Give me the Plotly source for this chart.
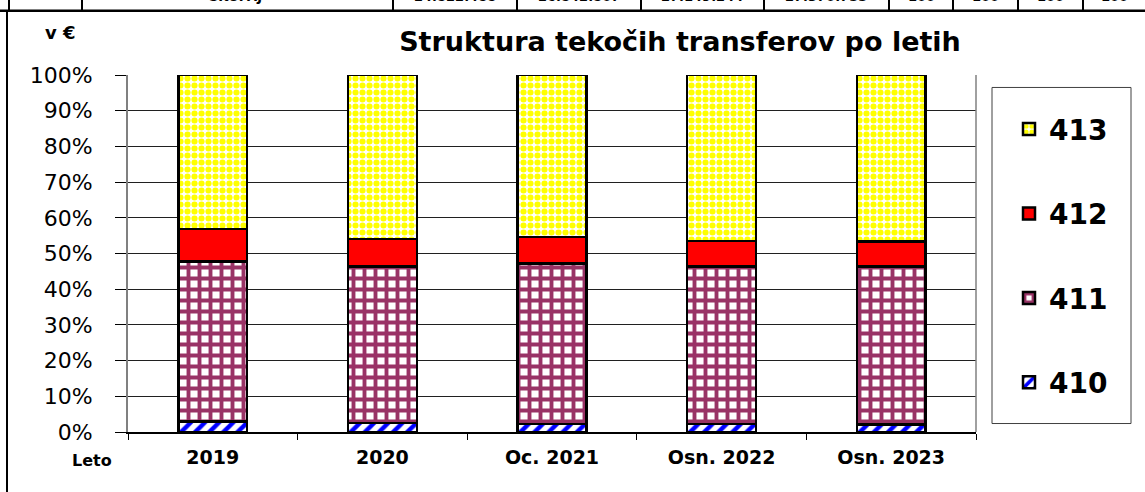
import plotly.graph_objects as go

# ---- data ----
categories = ["2019", "2020", "Oc. 2021", "Osn. 2022", "Osn. 2023"]
s410 = [3.0, 2.5, 2.3, 2.3, 2.1]
s411 = [44.8, 43.8, 44.9, 44.1, 44.3]
s412 = [9.0, 7.7, 7.4, 7.1, 7.0]
s413 = [43.2, 46.0, 45.4, 46.5, 46.6]
series_names = ["410", "411", "412", "413"]
legend_ranks = [4, 3, 2, 1]
y_ticks = [0, 10, 20, 30, 40, 50, 60, 70, 80, 90, 100]
y_tick_labels = ["0%", "10%", "20%", "30%", "40%", "50%", "60%", "70%", "80%", "90%", "100%"]

table_texts = ["SKUPAJ", "24.822.488", "26.842.807", "27.149.244", "27.370.755", "100", "100", "100", "100"]

# ---- layout geometry (pixels) ----
WIDTH, HEIGHT = 1145, 492
L, R, T, B = 128, 976, 74.5, 432.5
PW, PH = R - L, B - T


def px(x):
    return (x - L) / PW


def py(y):
    return (B - y) / PH


FONT = "DejaVu Sans"

styles = {
    "410": dict(color="white", pattern=dict(shape="/", fgcolor="#0000FF", bgcolor="white", fgopacity=1,
                                            size=10, solidity=0.45, fillmode="overlay")),
    "411": dict(color="white", pattern=dict(shape="+", fgcolor="#993366", bgcolor="white", fgopacity=1,
                                            size=11, solidity=0.58, fillmode="overlay")),
    "412": dict(color="#FF0000"),
    "413": dict(color="white", pattern=dict(shape=".", fgcolor="#FFFF00", bgcolor="white", fgopacity=1,
                                            size=7, solidity=0.6, fillmode="overlay")),
}

fig = go.Figure()
for name, vals, rank in zip(series_names, [s410, s411, s412, s413], legend_ranks):
    fig.add_trace(go.Bar(
        x=categories, y=vals, name=name, legendgroup=name, legendrank=rank,
        marker=dict(**styles[name], line=dict(color="black", width=2.5)),
    ))

shapes = []
# outer frame of the chart (left and top) and top table row lines
shapes.append(dict(type="line", xref="paper", yref="paper", x0=px(7), x1=px(7), y0=py(10), y1=py(495),
                   line=dict(color="black", width=2)))
shapes.append(dict(type="line", xref="paper", yref="paper", x0=px(0), x1=px(1150), y0=py(10), y1=py(10),
                   line=dict(color="black", width=2.5)))
for xv in [9, 82, 393, 517, 641, 764, 889, 953, 1018, 1083]:
    shapes.append(dict(type="line", xref="paper", yref="paper", x0=px(xv), x1=px(xv), y0=py(-2), y1=py(10),
                       line=dict(color="black", width=2)))
# right edge of plot area
shapes.append(dict(type="line", xref="paper", yref="paper", x0=1, x1=1, y0=0, y1=1,
                   line=dict(color="#808080", width=1.5)))
# legend box
shapes.append(dict(type="rect", xref="paper", yref="paper", x0=px(992), x1=px(1131), y0=py(424), y1=py(87),
                   line=dict(color="#404040", width=1), fillcolor="rgba(0,0,0,0)"))

annotations = []
table_x = [235, 455, 579, 702, 826, 921, 985, 1050, 1114]
for t, xv in zip(table_texts, table_x):
    annotations.append(dict(text=t, xref="paper", yref="paper", x=px(xv), y=py(5), xanchor="center",
                            yanchor="bottom", showarrow=False,
                            font=dict(family=FONT, size=13, color="black", weight="bold")))
annotations.append(dict(text="v €", xref="paper", yref="paper", x=px(60), y=py(32), xanchor="center",
                        yanchor="middle", showarrow=False,
                        font=dict(family=FONT, size=18, color="black", weight="bold")))
annotations.append(dict(text="Leto", xref="paper", yref="paper", x=px(92), y=py(461), xanchor="center",
                        yanchor="middle", showarrow=False,
                        font=dict(family=FONT, size=16, color="black", weight="bold")))

fig.update_layout(
    width=WIDTH, height=HEIGHT,
    margin=dict(l=L, r=WIDTH - R, t=T, b=HEIGHT - B, autoexpand=False),
    paper_bgcolor="white", plot_bgcolor="white",
    barmode="stack", barnorm="percent", bargap=0.594,
    title=dict(text="<b>Struktura tekočih transferov po letih</b>", x=680 / WIDTH, y=1 - 42 / HEIGHT,
               xanchor="center", yanchor="middle", xref="container", yref="container",
               font=dict(family=FONT, size=27, color="black")),
    font=dict(family=FONT, color="black"),
    showlegend=True,
    legend=dict(x=px(1009), y=py(104), xanchor="left", yanchor="top",
                traceorder="grouped", tracegroupgap=45,
                font=dict(family=FONT, size=28, color="black", weight="bold"),
                bgcolor="rgba(0,0,0,0)", borderwidth=0),
    xaxis=dict(showline=True, linecolor="black", linewidth=1.5, ticks="outside", tickson="boundaries",
               ticklen=6, tickcolor="black", tickfont=dict(family=FONT, size=19, color="black", weight="bold"),
               ticklabelstandoff=7, showgrid=False),
    yaxis=dict(range=[0, 100], tickmode="array", tickvals=y_ticks, ticktext=y_tick_labels,
               showline=True, linecolor="#808080",
               linewidth=2, ticks="outside", ticklen=11, tickcolor="black",
               tickfont=dict(family=FONT, size=22, color="black"), ticklabelstandoff=18,
               showgrid=True, gridcolor="#202020", gridwidth=1, zeroline=False),
    shapes=shapes, annotations=annotations,
)

fig.write_html("out.html", config={"displayModeBar": False},
               post_script="document.body.style.margin='0';document.body.style.overflow='hidden';")
